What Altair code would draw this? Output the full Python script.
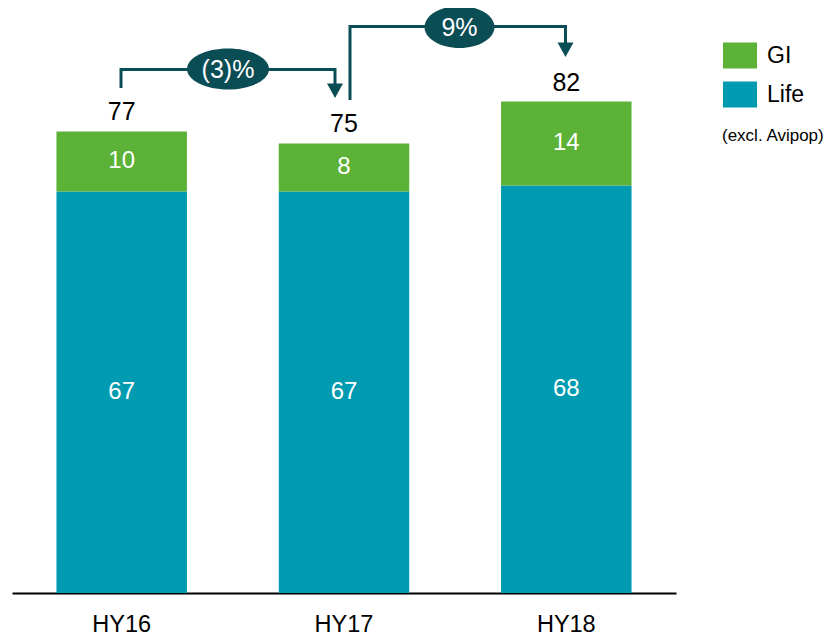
import altair as alt
import pandas as pd

categories = ["HY16", "HY17", "HY18"]
life = [67, 67, 68]
gi = [10, 8, 14]
totals = [l + g for l, g in zip(life, gi)]
series = ["GI", "Life"]
colors = ["#5BB236", "#009BB0"]
dark = "#0B4D55"
FONT = "Liberation Sans"

rows = []
for c, l, g in zip(categories, life, gi):
    rows.append({"cat": c, "series": "Life", "value": l, "ord": 0, "mid": l / 2})
    rows.append({"cat": c, "series": "GI", "value": g, "ord": 1, "mid": l + g / 2})
df = pd.DataFrame(rows)
tot = pd.DataFrame({"cat": categories, "total": totals})
one = pd.DataFrame({"k": [0]})

xenc = alt.X("cat:N", sort=categories, title=None,
             scale=alt.Scale(paddingInner=0.413, paddingOuter=0.2),
             axis=alt.Axis(labelAngle=0, labelFontSize=23.5, labelFont=FONT, labelColor="black",
                           ticks=False, domainColor="black", domainWidth=2, labelPadding=19,
                           grid=False))
yscale = alt.Scale(domain=[0, 97.6], nice=False, zero=True)

rect_sym = "M -1 -0.765 L 1 -0.765 L 1 0.765 L -1 0.765 Z"

bars = alt.Chart(df).mark_bar().encode(
    x=xenc,
    y=alt.Y("value:Q", stack="zero", scale=yscale, axis=None),
    color=alt.Color("series:N", scale=alt.Scale(domain=series, range=colors),
                    legend=alt.Legend(title=None, orient="none", legendX=711, legendY=30.5,
                                      symbolType=rect_sym, symbolSize=1156, symbolStrokeWidth=0,
                                      labelFontSize=23, labelFont=FONT, labelColor="black",
                                      rowPadding=8, labelOffset=10)),
    order=alt.Order("ord:Q"),
)

seglabels = alt.Chart(df).mark_text(color="white", fontSize=24, font=FONT, fontWeight="normal").encode(
    x=alt.X("cat:N", sort=categories),
    y=alt.Y("mid:Q", scale=yscale),
    text="value:Q",
)

totlabels = alt.Chart(tot).mark_text(color="black", fontSize=25, font=FONT, fontWeight="normal",
                                     baseline="alphabetic", dy=-11).encode(
    x=alt.X("cat:N", sort=categories),
    y=alt.Y("total:Q", scale=yscale),
    text="total:Q",
)

def seg(x1, y1, x2, y2):
    return alt.Chart(one).mark_rule(color=dark, strokeWidth=3).encode(
        x=alt.value(x1), x2=alt.value(x2), y=alt.value(y1), y2=alt.value(y2))

tri = "M -1 -0.9 L 1 -0.9 L 0 0.9 Z"

def ellipse_path(r):
    k = 0.5523
    return (f"M -1 0 C -1 {-k*r} {-k} {-r} 0 {-r} C {k} {-r} 1 {-k*r} 1 0 "
            f"C 1 {k*r} {k} {r} 0 {r} C {-k} {r} -1 {k*r} -1 0 Z")

def pt(x, y, shape, size):
    return alt.Chart(one).mark_point(shape=shape, filled=True, color=dark, opacity=1, strokeWidth=0).encode(
        x=alt.value(x), y=alt.value(y), size=alt.value(size))

def label(x, y, t):
    return alt.Chart(one).mark_text(text=t, color="white", fontSize=25, font=FONT, fontWeight="normal").encode(
        x=alt.value(x), y=alt.value(y))

ann = [
    seg(109, 80, 109, 60), seg(108, 61.5, 324, 61.5), seg(323, 60, 323, 77),
    pt(323, 82.8, tri, 256),
    pt(216, 61, ellipse_path(0.5), 82 * 82), label(216, 62, "(3)%"),
    seg(338, 92, 338, 17), seg(337, 18.5, 554.5, 18.5), seg(553.5, 17, 553.5, 36),
    pt(553.5, 41.8, tri, 256),
    pt(447.5, 19, ellipse_path(0.6), 70 * 70), label(447.5, 20, "9%"),
]

note = alt.Chart(one).mark_text(text="(excl. Avipop)", color="black", fontSize=17, font=FONT,
                                fontWeight="normal", align="left").encode(
    x=alt.value(710), y=alt.value(128))

chart = alt.layer(bars, seglabels, totlabels, *ann, note).properties(
    width=664, height=585,
    autosize=alt.AutoSizeParams(type="none"),
    padding={"left": 4, "top": 0, "right": 152, "bottom": 42},
).configure(background="white").configure_view(strokeWidth=0, stroke=None)

chart.save("out.html", embed_options={"renderer": "svg", "actions": False})
